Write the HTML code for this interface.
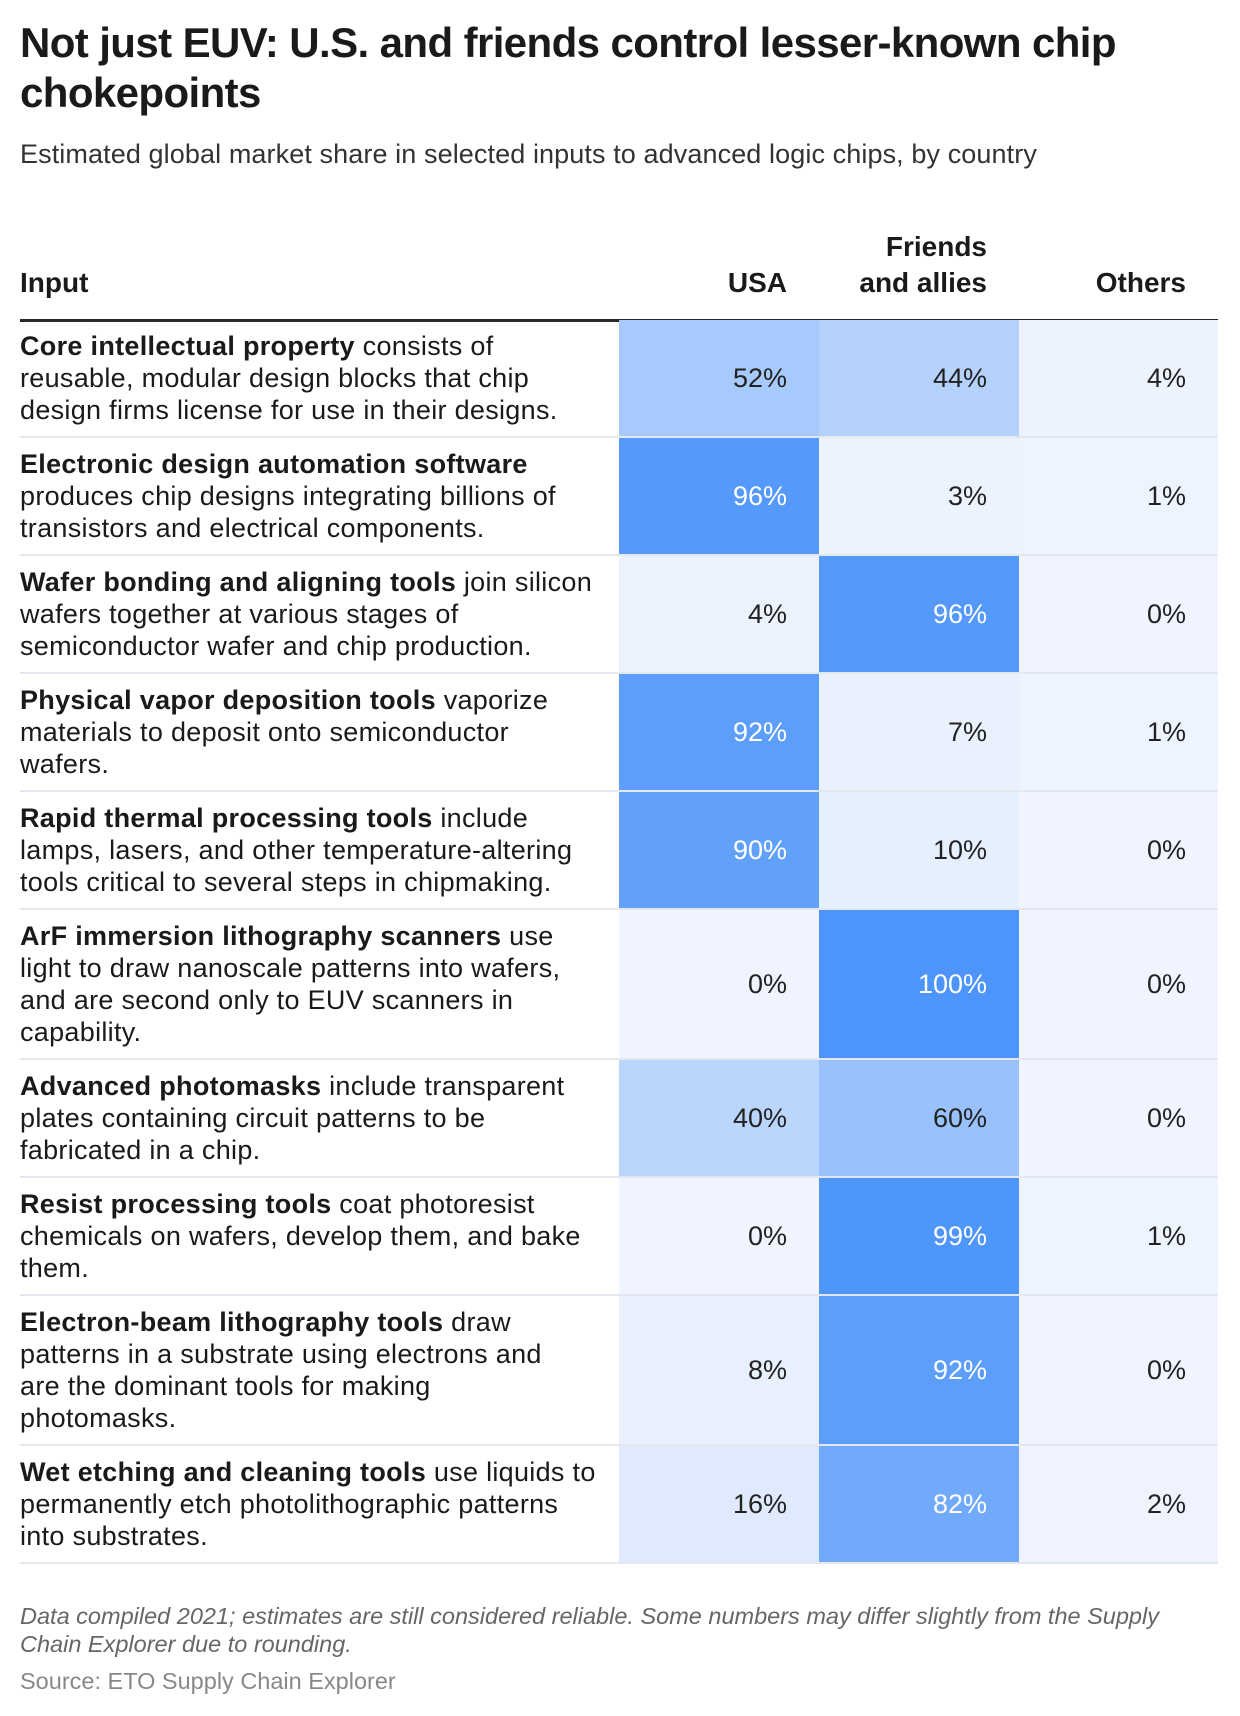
<!DOCTYPE html>
<html><head><meta charset="utf-8">
<style>
body{margin:0;width:1240px;height:1716px;background:#fff;font-family:"Liberation Sans",sans-serif;color:#1a1a1a;position:relative;overflow:hidden}
#title{position:absolute;left:20px;top:18px;font-size:42px;font-weight:bold;line-height:50px;letter-spacing:-0.6px;margin:0}
#sub{position:absolute;left:20px;top:139px;font-size:27px;color:#333;letter-spacing:0.1px}
.h{position:absolute;font-size:28px;font-weight:bold;line-height:36px;text-align:right;white-space:nowrap}
#rule{position:absolute;left:20px;top:319px;width:1198px;height:3px;background:#2a2a2a}
.row{position:absolute;left:20px;width:1198px;border-bottom:2px solid #e4e7ee;box-sizing:border-box}
.txt{position:absolute;left:0;font-size:27px;line-height:32px;white-space:nowrap;letter-spacing:0.3px}
.cell{position:absolute;top:0;bottom:0;width:200px;font-size:27px;text-align:right;box-sizing:border-box;padding-right:32px;display:flex;align-items:center;justify-content:flex-end}
.foot{position:absolute;left:20px;font-size:23.5px;color:#666;line-height:28px;white-space:nowrap}
</style></head><body>
<h1 id="title">Not just EUV: U.S. and friends control lesser-known chip<br>chokepoints</h1>
<div id="sub">Estimated global market share in selected inputs to advanced logic chips, by country</div>
<div class="h" style="left:20px;top:265px;text-align:left">Input</div>
<div class="h" style="left:619px;width:168px;top:265px">USA</div>
<div class="h" style="left:819px;width:168px;top:229px">Friends<br>and allies</div>
<div class="h" style="left:1019px;width:167px;top:265px">Others</div>
<div id="rule"></div>
<div id="table"></div>
<div class="foot" style="top:1602px;font-style:italic">Data compiled 2021; estimates are still considered reliable. Some numbers may differ slightly from the Supply<br>Chain Explorer due to rounding.</div>
<div class="foot" style="top:1667px;color:#888">Source: ETO Supply Chain Explorer</div>
<script>
const inputs=["Core intellectual property","Electronic design automation software","Wafer bonding and aligning tools","Physical vapor deposition tools","Rapid thermal processing tools","ArF immersion lithography scanners","Advanced photomasks","Resist processing tools","Electron-beam lithography tools","Wet etching and cleaning tools"];
const descLines=[
["<b>Core intellectual property</b> consists of","reusable, modular design blocks that chip","design firms license for use in their designs."],
["<b>Electronic design automation software</b>","produces chip designs integrating billions of","transistors and electrical components."],
["<b>Wafer bonding and aligning tools</b> join silicon","wafers together at various stages of","semiconductor wafer and chip production."],
["<b>Physical vapor deposition tools</b> vaporize","materials to deposit onto semiconductor","wafers."],
["<b>Rapid thermal processing tools</b> include","lamps, lasers, and other temperature-altering","tools critical to several steps in chipmaking."],
["<b>ArF immersion lithography scanners</b> use","light to draw nanoscale patterns into wafers,","and are second only to EUV scanners in","capability."],
["<b>Advanced photomasks</b> include transparent","plates containing circuit patterns to be","fabricated in a chip."],
["<b>Resist processing tools</b> coat photoresist","chemicals on wafers, develop them, and bake","them."],
["<b>Electron-beam lithography tools</b> draw","patterns in a substrate using electrons and","are the dominant tools for making","photomasks."],
["<b>Wet etching and cleaning tools</b> use liquids to","permanently etch photolithographic patterns","into substrates."]];
const usa=[52,96,4,92,90,0,40,0,8,16];
const friends=[44,3,96,7,10,100,60,99,92,82];
const others=[4,1,0,1,0,0,0,1,0,2];
function color(v){const t=Math.pow(v/100,1.25);const a=[0xef,0xf4,0xfe],b=[0x4d,0x95,0xfa];return `rgb(${a.map((x,i)=>Math.round(x+(b[i]-x)*t)).join(',')})`;}
const tb=document.getElementById('table');
let y=320;
inputs.forEach((name,i)=>{
  const lines=descLines[i];
  const h=lines.length===4?150:118;
  const r=document.createElement('div');r.className='row';
  
  
  r.style.top=y+'px';r.style.height=h+'px';
  const t=document.createElement('div');t.className='txt';
  
  
  t.innerHTML=lines.join('<br>');
  t.style.top=((h-2-lines.length*32)/2)+'px';
  r.appendChild(t);
  [[usa,'usa'],[friends,'friends'],[others,'others']].forEach(([arr,k],j)=>{
    const c=document.createElement('div');c.className='cell';
    
    
    c.style.left=(599+j*200)+'px';c.style.width=(j==2?199:200)+'px';
    c.style.background=color(arr[i]);
    c.style.color=arr[i]>=80?'#fff':'#222';
    c.textContent=arr[i]+'%';
    r.appendChild(c);
  });
  tb.appendChild(r);
  y+=h;
});
</script>
</body></html>
